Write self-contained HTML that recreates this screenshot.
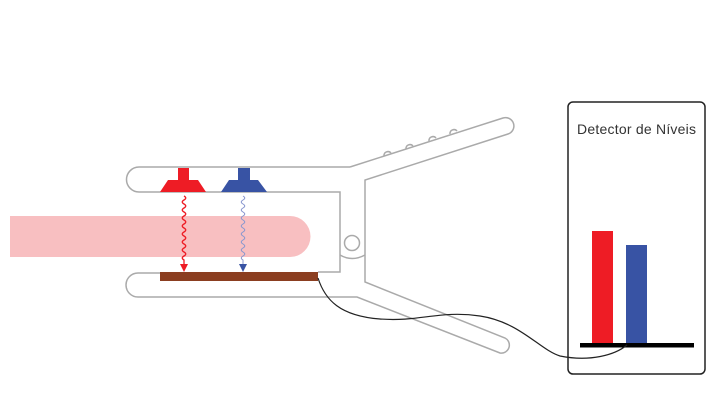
<!DOCTYPE html>
<html><head><meta charset="utf-8"><style>
html,body{margin:0;padding:0;background:#fff;}
svg{display:block;}
</style></head><body>
<svg width="716" height="407" viewBox="0 0 716 407" xmlns="http://www.w3.org/2000/svg">
<!-- finger -->
<path d="M10 216 H290 A20.5 20.5 0 0 1 290 257 H10 Z" fill="#f8bfc1"/>
<g fill="none" stroke="#aaa" stroke-width="1.5">
<path d="M350 167 L503 118 A8 8 0 0 1 508 134 L365 180 V282 L505 338 A8 8 0 0 1 500 353 L357 297 H138 A12 12 0 0 1 138 273 H160"/>
<path d="M350 167 H139 A12.5 12.5 0 0 0 139 192 H340 V272 H318"/>
<path d="M340 255 Q352 262 365 255"/>
<circle cx="352" cy="243" r="7.5"/>
<path d="M384 156 a4 4 0 0 1 7 -3 M406 149 a4 4 0 0 1 7 -3 M429 141 a4 4 0 0 1 7 -3 M450 134 a4 4 0 0 1 7 -3"/>
</g>
<rect x="160" y="272" width="158" height="9" fill="#8b3e20"/>
<path d="M178 168 H189 V180 H198 L206 192 H160 L168 180 H178 Z" fill="#ee1c25"/>
<path d="M238 168 H250 V180 H258 L267 192 H221 L229 180 H238 Z" fill="#3853a4"/>
<path d="M184 196 q3.5 2 0 4 q-3.5 2 0 4 q3.5 2 0 4 q-3.5 2 0 4 q3.5 2 0 4 q-3.5 2 0 4 q3.5 2 0 4 q-3.5 2 0 4 q3.5 2 0 4 q-3.5 2 0 4 q3.5 2 0 4 q-3.5 2 0 4 q3.5 2 0 4 q-3.5 2 0 4 q3.5 2 0 4 q-3.5 2 0 4 V265" fill="none" stroke="#ee1c25" stroke-width="1.3"/>
<path d="M180 264 H188 L184 272 Z" fill="#ee1c25"/>
<path d="M243 196 q3.5 2 0 4 q-3.5 2 0 4 q3.5 2 0 4 q-3.5 2 0 4 q3.5 2 0 4 q-3.5 2 0 4 q3.5 2 0 4 q-3.5 2 0 4 q3.5 2 0 4 q-3.5 2 0 4 q3.5 2 0 4 q-3.5 2 0 4 q3.5 2 0 4 q-3.5 2 0 4 q3.5 2 0 4 q-3.5 2 0 4 V265" fill="none" stroke="#8a98cf" stroke-width="1"/>
<path d="M239 264 H247 L243 272 Z" fill="#3853a4"/>
<rect x="568" y="102" width="137" height="272" rx="5" fill="#fff" stroke="#222" stroke-width="1.5"/>
<text x="577" y="134" font-family="Liberation Sans, sans-serif" font-size="14" fill="#333" textLength="119">Detector de Níveis</text>
<rect x="592" y="231" width="21" height="112" fill="#ee1c25"/>
<rect x="626" y="245" width="21" height="98" fill="#3853a4"/>
<rect x="580" y="343" width="114" height="4.5" fill="#000"/>
<path d="M318 278 C325 300 340 316 380 319 C420 322 440 310 480 316 C520 322 540 350 560 356 C590 362 615 355 627 345" fill="none" stroke="#222" stroke-width="1.2"/>
</svg>
</body></html>
